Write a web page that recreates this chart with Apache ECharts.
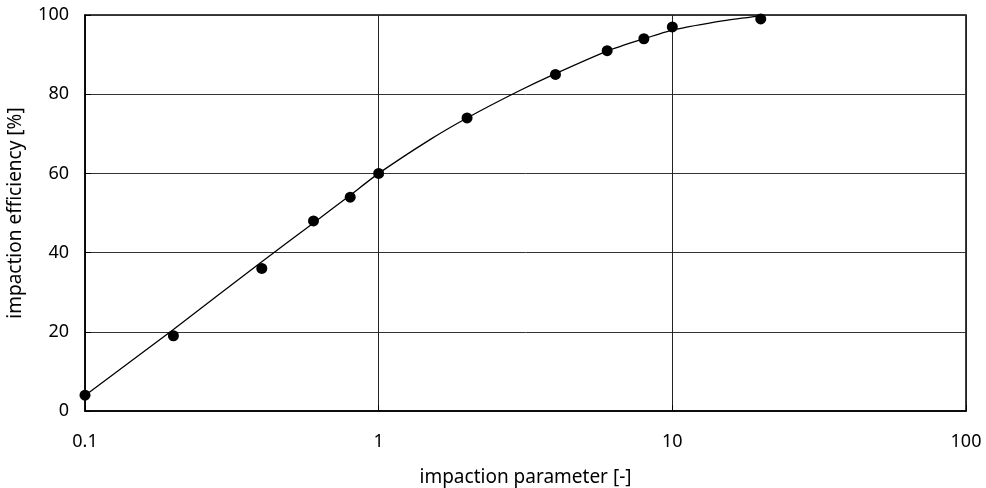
<!DOCTYPE html>
<html>
<head>
<meta charset="utf-8">
<script src="https://cdn.jsdelivr.net/npm/echarts@6/dist/echarts.min.js"></script>
<style>
    html, body { margin: 0; padding: 0; background: #fff; }
    #chart { width: 986px; height: 488px; }
</style>
</head>
<body>
<div id="chart"></div>
<script>
// measured points
var paramX = [0.1, 0.2, 0.4, 0.6, 0.8, 1, 2, 4, 6, 8, 10, 20];
var efficiency = [4, 19, 36, 48, 54, 60, 74, 85, 91, 94, 97, 99];

// fitted curve
var fitX = [0.1, 0.2, 0.4, 0.6, 0.8, 1, 1.5, 2, 3, 4, 6, 8, 10, 15, 20];
var fitY = [3.9, 20.6, 37.7, 47.5, 54.5, 60, 68.6, 74, 80.8, 85.2, 90.9, 94, 96.2, 98.6, 99.8];

var yTicks = [0, 20, 40, 60, 80, 100];

function pairs(xs, ys) {
    var out = [];
    for (var i = 0; i < xs.length; i++) {
        out.push([xs[i], ys[i]]);
    }
    return out;
}

var myChart = echarts.init(document.getElementById('chart'));

var font = 'Noto Sans';

var option = {
    animation: false,
    grid: {
        left: 85,
        right: 20,
        top: 15,
        bottom: 77,
        outerBoundsMode: 'none',
        show: true,
        borderColor: '#000',
        borderWidth: 1.5
    },
    xAxis: {
        type: 'log',
        logBase: 10,
        min: 0.1,
        max: 100,
        name: 'impaction parameter [-]',
        nameLocation: 'middle',
        nameGap: 57,
        nameTextStyle: { fontFamily: font, fontSize: 19, color: '#000' },
        axisLine: { show: true, lineStyle: { color: '#000', width: 1.5 } },
        axisTick: { show: true, inside: true, length: 6, lineStyle: { color: '#000' } },
        axisLabel: {
            fontFamily: font, fontSize: 18, color: '#000', margin: 22,
            formatter: function (v) { return String(+v.toPrecision(3)); }
        },
        splitLine: { show: true, lineStyle: { color: '#222', width: 1 } },
        minorTick: { show: false }
    },
    yAxis: {
        type: 'value',
        min: yTicks[0],
        max: yTicks[yTicks.length - 1],
        interval: 20,
        name: 'impaction efficiency [%]',
        nameLocation: 'middle',
        nameGap: 60,
        nameTextStyle: { fontFamily: font, fontSize: 19, color: '#000' },
        axisLine: { show: true, lineStyle: { color: '#000', width: 1.5 } },
        axisTick: { show: true, inside: true, length: 6, lineStyle: { color: '#000' } },
        axisLabel: { fontFamily: font, fontSize: 18, color: '#000', margin: 16 },
        splitLine: { show: true, lineStyle: { color: '#333', width: 1 } }
    },
    series: [
        {
            name: 'fit',
            type: 'line',
            data: pairs(fitX, fitY),
            smooth: 0.2,
            showSymbol: false,
            symbol: 'none',
            lineStyle: { color: '#000', width: 1.3 },
            z: 2
        },
        {
            name: 'measured',
            type: 'scatter',
            data: pairs(paramX, efficiency),
            symbol: 'circle',
            symbolSize: 11,
            itemStyle: { color: '#000', opacity: 1 },
            z: 3
        }
    ]
};

myChart.setOption(option);
</script>
</body>
</html>
